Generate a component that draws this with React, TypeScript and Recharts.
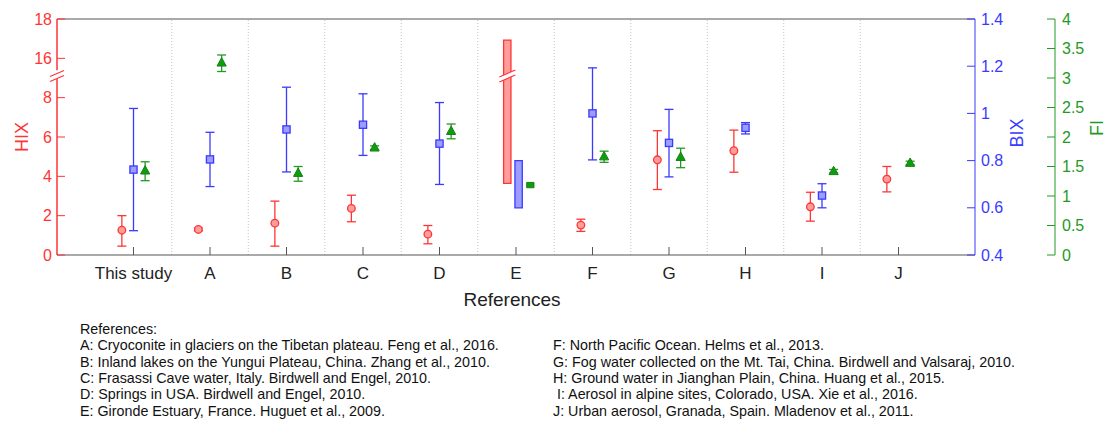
import React from "react"
import {
  ComposedChart,
  Scatter,
  XAxis,
  YAxis,
  ErrorBar,
  ReferenceLine,
  ReferenceArea,
  ReferenceDot,
} from "recharts"

const categories = ["This study", "A", "B", "C", "D", "E", "F", "G", "H", "I", "J"]

// HIX (left axis)
const hixMean = [1.26, 1.3, 1.62, 2.37, 1.06, null, 1.52, 4.84, 5.3, 2.45, 3.86]
const hixLow = [0.45, 1.23, 0.45, 1.69, 0.57, null, 1.2, 3.33, 4.21, 1.72, 3.21]
const hixHigh = [2.0, 1.37, 2.74, 3.04, 1.5, null, 1.82, 6.32, 6.35, 3.19, 4.5]

// BIX (first right axis)
const bixMean = [0.762, 0.805, 0.932, 0.952, 0.872, null, 1.0, 0.875, 0.939, 0.652, null]
const bixLow = [0.503, 0.69, 0.752, 0.822, 0.699, null, 0.803, 0.731, 0.913, 0.6, null]
const bixHigh = [1.021, 0.92, 1.111, 1.083, 1.046, null, 1.193, 1.017, 0.961, 0.702, null]

// FI (second right axis)
const fiMean = [1.43, 3.26, 1.39, 1.82, 2.1, null, 1.67, 1.66, null, 1.42, 1.56]
const fiLow = [1.26, 3.11, 1.25, 1.79, 1.97, null, 1.57, 1.48, null, 1.39, 1.53]
const fiHigh = [1.58, 3.39, 1.5, 1.85, 2.22, null, 1.76, 1.81, null, 1.45, 1.59]

// reference E only gives ranges
const eHixRange = [3.64, 16.93]
const eBixRange = [0.6, 0.8]
const eFiRange = [1.14, 1.23]

const hixTicks = [0, 2, 4, 6, 8, 16, 18]
const bixTicks = [0.4, 0.6, 0.8, 1, 1.2, 1.4]
const fiTicks = [0, 0.5, 1, 1.5, 2, 2.5, 3, 3.5, 4]

const refsLeft = [
  "A: Cryoconite in glaciers on the Tibetan plateau. Feng et al., 2016.",
  "B: Inland lakes on the Yungui Plateau, China. Zhang et al., 2010.",
  "C: Frasassi Cave water, Italy. Birdwell and Engel, 2010.",
  "D: Springs in USA. Birdwell and Engel, 2010.",
  "E: Gironde Estuary, France. Huguet et al., 2009.",
]
const refsRight = [
  "F: North Pacific Ocean. Helms et al., 2013.",
  "G: Fog water collected on the Mt. Tai, China. Birdwell and Valsaraj, 2010.",
  "H: Ground water in Jianghan Plain, China. Huang et al., 2015.",
  " I: Aerosol in alpine sites, Colorado, USA. Xie et al., 2016.",
  "J: Urban aerosol, Granada, Spain. Mladenov et al., 2011.",
]

const RED = "#ff3535"
const BLUE = "#3a3aff"
const GREEN = "#239a23"

// broken HIX axis: the 8..16 gap is squeezed into one tick step
const hixT = (v: number) => (v <= 8 ? v : v - 6)
const hixLabel = (t: number) => (t <= 8 ? t : t + 6)
const BREAK = 9.1

const build = (
  mean: (number | null)[],
  low: (number | null)[],
  high: (number | null)[],
  offset: number,
  tf: (v: number) => number = (v) => v
) =>
  mean.flatMap((m, i) => {
    if (m == null) return []
    const y = tf(m)
    return [{ x: i + 1 + offset, y, err: [y - tf(low[i] as number), tf(high[i] as number) - y] }]
  })

const hixData = build(hixMean, hixLow, hixHigh, -0.152, hixT)
const bixData = build(bixMean, bixLow, bixHigh, 0)
const fiData = build(fiMean, fiLow, fiHigh, 0.152)

const eIndex = categories.indexOf("E") + 1
const separators = categories.slice(1).map((_, i) => i + 1.5)

const Circle = ({ cx, cy }: any) => (
  <circle cx={cx} cy={cy} r={3.8} fill="#ff9c9c" stroke={RED} strokeWidth={1.3} />
)
const Square = ({ cx, cy }: any) => (
  <rect x={cx - 3.6} y={cy - 3.6} width={7.2} height={7.2} fill="#9d9dff" stroke={BLUE} strokeWidth={1.3} />
)
const Triangle = ({ cx, cy }: any) => (
  <polygon
    points={`${cx},${cy - 5} ${cx - 4.6},${cy + 3.4} ${cx + 4.6},${cy + 3.4}`}
    fill="#0aa00a"
    stroke="#1b7d1b"
    strokeWidth={1}
  />
)

const AxisBreak = ({ cx, cy }: any) => (
  <g>
    <line x1={cx - 7} y1={cy + 0.5} x2={cx + 7} y2={cy - 5.5} stroke={RED} strokeWidth={1.2} />
    <line x1={cx - 7} y1={cy + 5.5} x2={cx + 7} y2={cy - 0.5} stroke={RED} strokeWidth={1.2} />
  </g>
)

const BarBreak = ({ cx, cy }: any) => (
  <g>
    <polygon
      points={`${cx - 8},${cy + 1} ${cx + 8},${cy - 6} ${cx + 8},${cy - 1} ${cx - 8},${cy + 6}`}
      fill="#ffffff"
    />
    <line x1={cx - 8} y1={cy + 1} x2={cx + 8} y2={cy - 6} stroke={RED} strokeWidth={1.2} />
    <line x1={cx - 8} y1={cy + 6} x2={cx + 8} y2={cy - 1} stroke={RED} strokeWidth={1.2} />
  </g>
)

const tickFont = { fontSize: 16 }

export default function App() {
  return (
    <div
      style={{
        position: "absolute",
        left: 0,
        top: 0,
        width: 1105,
        height: 421,
        background: "#fff",
        fontFamily: "'Liberation Sans', Arial, sans-serif",
        overflow: "hidden",
      }}
    >
      <ComposedChart width={1105} height={421} margin={{ top: 14, right: 0, bottom: 106, left: 0 }}>
        <XAxis
          dataKey="x"
          type="number"
          domain={[0, 12]}
          allowDataOverflow
          ticks={categories.map((_, i) => i + 1)}
          interval={0}
          tickFormatter={(v: number) => categories[v - 1]}
          tickSize={-8}
          tickMargin={20}
          height={60}
          stroke="#555"
          tick={{ fill: "#222", fontSize: 17 }}
        />
        <XAxis
          xAxisId="top"
          orientation="top"
          type="number"
          domain={[0, 12]}
          allowDataOverflow
          ticks={categories.map((_, i) => i + 1)}
          tick={false}
          tickSize={-8}
          height={5}
          stroke="#555"
        />
        <YAxis
          yAxisId="hix"
          type="number"
          domain={[0, 12]}
          allowDataOverflow
          ticks={hixTicks.map(hixT)}
          interval={0}
          tickFormatter={(v: number) => String(hixLabel(v))}
          width={57}
          axisLine={false}
          tickSize={-8}
          tickMargin={13}
          stroke={RED}
          tick={{ ...tickFont, fill: RED }}
        />
        <YAxis
          yAxisId="bix"
          orientation="right"
          type="number"
          domain={[0.4, 1.4]}
          allowDataOverflow
          ticks={bixTicks}
          interval={0}
          width={80}
          tickSize={-8}
          tickMargin={14}
          stroke={BLUE}
          tick={{ ...tickFont, fill: BLUE }}
        />
        <YAxis
          yAxisId="fi"
          orientation="right"
          type="number"
          domain={[0, 4]}
          allowDataOverflow
          ticks={fiTicks}
          interval={0}
          width={50}
          tickSize={-8}
          tickMargin={15}
          stroke={GREEN}
          tick={{ ...tickFont, fill: GREEN }}
        />

        {separators.map((s) => (
          <ReferenceLine key={s} x={s} yAxisId="hix" stroke="#c4c4c4" strokeDasharray="1 2" />
        ))}

        {/* left axis line with the break */}
        <ReferenceLine
          yAxisId="hix"
          segment={[{ x: 0, y: 0 }, { x: 0, y: BREAK - 0.15 }]}
          stroke={RED}
          strokeWidth={1.5}
          ifOverflow="visible"
        />
        <ReferenceLine
          yAxisId="hix"
          segment={[{ x: 0, y: BREAK + 0.3 }, { x: 0, y: 12 }]}
          stroke={RED}
          strokeWidth={1.5}
          ifOverflow="visible"
        />
        <ReferenceDot x={0} y={BREAK} yAxisId="hix" ifOverflow="visible" shape={AxisBreak} />

        {/* reference E: ranges only */}
        <ReferenceArea
          yAxisId="hix"
          x1={eIndex - 0.162}
          x2={eIndex - 0.066}
          y1={hixT(eHixRange[0])}
          y2={hixT(eHixRange[1])}
          fill="#ff9c9c"
          fillOpacity={1}
          stroke={RED}
          strokeWidth={1.3}
        />
        <ReferenceDot x={eIndex - 0.114} y={BREAK} yAxisId="hix" ifOverflow="visible" shape={BarBreak} />
        <ReferenceArea
          yAxisId="bix"
          x1={eIndex - 0.014}
          x2={eIndex + 0.082}
          y1={eBixRange[0]}
          y2={eBixRange[1]}
          fill="#9d9dff"
          fillOpacity={1}
          stroke={BLUE}
          strokeWidth={1.3}
        />
        <ReferenceArea
          yAxisId="fi"
          x1={eIndex + 0.14}
          x2={eIndex + 0.235}
          y1={eFiRange[0]}
          y2={eFiRange[1]}
          fill="#0aa00a"
          fillOpacity={1}
          stroke="#1b7d1b"
          strokeWidth={1}
        />

        <Scatter data={hixData} dataKey="y" yAxisId="hix" shape={Circle} isAnimationActive={false}>
          <ErrorBar dataKey="err" direction="y" width={4.5} stroke={RED} strokeWidth={1.3} />
        </Scatter>
        <Scatter data={bixData} dataKey="y" yAxisId="bix" shape={Square} isAnimationActive={false}>
          <ErrorBar dataKey="err" direction="y" width={4.5} stroke={BLUE} strokeWidth={1.3} />
        </Scatter>
        <Scatter data={fiData} dataKey="y" yAxisId="fi" shape={Triangle} isAnimationActive={false}>
          <ErrorBar dataKey="err" direction="y" width={4.5} stroke={GREEN} strokeWidth={1.3} />
        </Scatter>
      </ComposedChart>

      {/* axis titles */}
      <div style={{ position: "absolute", left: 22, top: 137, transform: "translate(-50%, -50%) rotate(-90deg)", color: RED, fontSize: 18 }}>
        HIX
      </div>
      <div style={{ position: "absolute", left: 1017, top: 133, transform: "translate(-50%, -50%) rotate(-90deg)", color: BLUE, fontSize: 18 }}>
        BIX
      </div>
      <div style={{ position: "absolute", left: 1097, top: 128, transform: "translate(-50%, -50%) rotate(-90deg)", color: GREEN, fontSize: 18 }}>
        FI
      </div>
      <div style={{ position: "absolute", left: 512, top: 300, transform: "translate(-50%, -50%)", color: "#222", fontSize: 19 }}>
        References
      </div>

      {/* reference list */}
      <div style={{ position: "absolute", left: 80, top: 320.8, fontSize: 14.3, lineHeight: "16.4px", color: "#111", whiteSpace: "pre" }}>
        <div>References:</div>
        {refsLeft.map((r) => (
          <div key={r}>{r}</div>
        ))}
      </div>
      <div style={{ position: "absolute", left: 553, top: 337.2, fontSize: 14.3, lineHeight: "16.4px", color: "#111", whiteSpace: "pre" }}>
        {refsRight.map((r) => (
          <div key={r}>{r}</div>
        ))}
      </div>
    </div>
  )
}
